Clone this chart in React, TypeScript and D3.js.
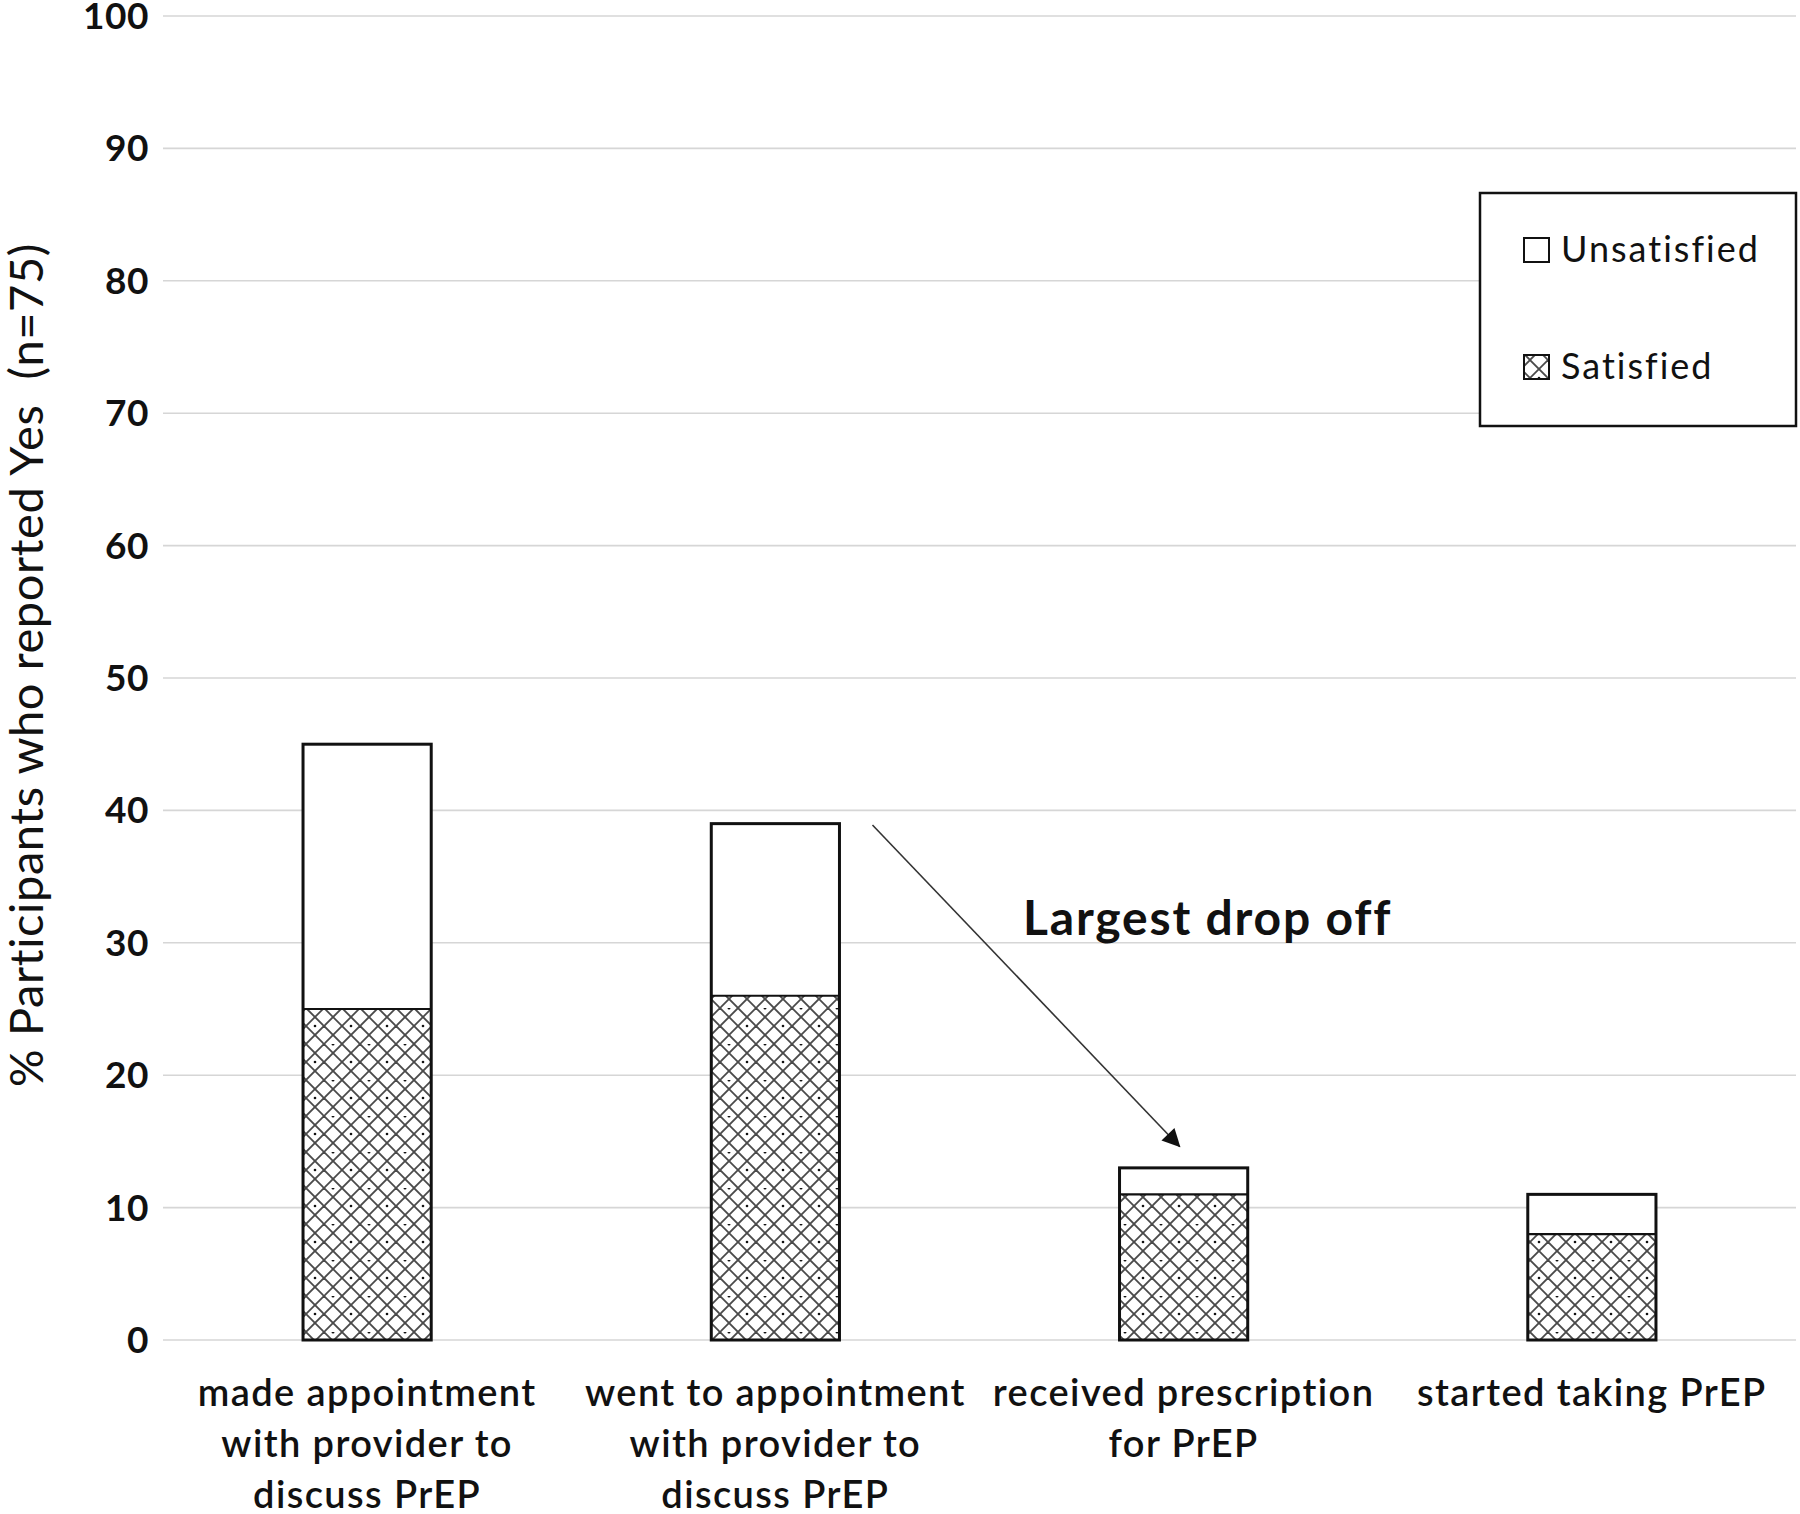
import React from "react";
import * as d3 from "d3";

const categories: string[][] = [
  ["made appointment", "with provider to", "discuss PrEP"],
  ["went to appointment", "with provider to", "discuss PrEP"],
  ["received prescription", "for PrEP"],
  ["started taking PrEP"],
];
const satisfied = [25, 26, 11, 8];
const unsatisfied = [20, 13, 2, 3];
const yTicks = [0, 10, 20, 30, 40, 50, 60, 70, 80, 90, 100];
const seriesNames = ["Unsatisfied", "Satisfied"];
const yTitle = "% Participants who reported Yes\u00a0 (n=75)";
const annotation = "Largest drop off";

const W = 1800;
const H = 1514;
const FONT = "Lato, 'Open Sans', 'DejaVu Sans', sans-serif";

export default function App() {
  const ids = categories.map((_, i) => String(i));
  const x = d3.scaleBand<string>().domain(ids).range([163, 1796]).paddingInner(0.686).paddingOuter(0.343);
  const y = d3.scaleLinear().domain([0, 100]).range([1340, 16]);
  const bw = x.bandwidth();

  const stacked = categories.map((_, i) => ({
    id: ids[i],
    s0: 0,
    s1: satisfied[i],
    u0: satisfied[i],
    u1: satisfied[i] + unsatisfied[i],
  }));

  const ax1 = (x("1") as number) + bw + 33;
  const ay1 = y(38.9);
  const ax2 = (x("2") as number) + bw * 0.47;
  const ay2 = y(14.6);

  return (
    <svg width={W} height={H} style={{ position: "absolute", left: 0, top: 0, background: "#fff" }} fontFamily={FONT}>
      <defs>
        <pattern id="hatch" patternUnits="userSpaceOnUse" width="36" height="36">
          <rect width="36" height="36" fill="#fff" />
          <g stroke="#4a4a4a" strokeWidth="1.8" fill="none">
            <line x1="0" y1="0" x2="36" y2="36" />
            <line x1="18" y1="0" x2="36" y2="18" />
            <line x1="0" y1="18" x2="18" y2="36" />
            <line x1="36" y1="0" x2="0" y2="36" />
            <line x1="18" y1="0" x2="0" y2="18" />
            <line x1="36" y1="18" x2="18" y2="36" />
          </g>
          <circle cx="9" cy="0" r="1.5" fill="#111" />
          <circle cx="27" cy="18" r="1.3" fill="#111" />
        </pattern>
        <marker id="arrowBig" viewBox="0 0 10 10" refX="9.5" refY="5" markerWidth="22" markerHeight="18" orient="auto" markerUnits="userSpaceOnUse">
          <path d="M0,0 L10,5 L0,10 Z" fill="#111" />
        </marker>
      </defs>

      {/* gridlines */}
      {yTicks.map((t) => (
        <line key={"g" + t} x1={163} x2={1796} y1={y(t)} y2={y(t)} stroke="#d6d6d6" strokeWidth={1.6} />
      ))}
      {/* y tick labels */}
      {yTicks.map((t) => (
        <text key={"t" + t} x={149} y={y(t) + 13} textAnchor="end" fontSize={37} fontWeight={700} fill="#111" letterSpacing={0.5}>
          {t}
        </text>
      ))}
      {/* y title */}
      <text
        transform={`translate(43, ${665}) rotate(-90)`}
        textAnchor="middle"
        fontSize={47}
        fill="#111"
        letterSpacing={0.6}
      >
        {yTitle}
      </text>

      {/* bars */}
      {stacked.map((d) => (
        <g key={"b" + d.id}>
          <rect x={x(d.id)} y={y(d.s1)} width={bw} height={y(d.s0) - y(d.s1)} fill="url(#hatch)" />
          <rect x={x(d.id)} y={y(d.u1)} width={bw} height={y(d.u0) - y(d.u1)} fill="#fff" />
          <line x1={x(d.id)} x2={(x(d.id) as number) + bw} y1={y(d.u0)} y2={y(d.u0)} stroke="#111" strokeWidth={2.2} />
          <rect x={x(d.id)} y={y(d.u1)} width={bw} height={y(0) - y(d.u1)} fill="none" stroke="#111" strokeWidth={3} />
        </g>
      ))}

      {/* category labels */}
      {categories.map((lines, i) => (
        <text key={"c" + i} textAnchor="middle" fontSize={38} fontWeight={600} fill="#111" letterSpacing={1.4}>
          {lines.map((l, j) => (
            <tspan key={j} x={(x(ids[i]) as number) + bw / 2} y={1406 + j * 51}>
              {l}
            </tspan>
          ))}
        </text>
      ))}

      {/* annotation */}
      <line x1={ax1} y1={ay1} x2={ax2} y2={ay2} stroke="#333" strokeWidth={1.6} markerEnd="url(#arrowBig)" />
      <text x={1023} y={935} fontSize={48} fontWeight={700} fill="#111" letterSpacing={1.8}>
        {annotation}
      </text>

      {/* legend */}
      <rect x={1480} y={193} width={316} height={233} fill="#fff" stroke="#111" strokeWidth={2.5} />
      <rect x={1524} y={238} width={25} height={24} fill="#fff" stroke="#111" strokeWidth={2} />
      <text x={1561} y={262} fontSize={36} fill="#111" letterSpacing={2}>{seriesNames[0]}</text>
      <rect x={1524} y={355} width={25} height={24} fill="url(#hatch)" stroke="#111" strokeWidth={2} />
      <text x={1561} y={379} fontSize={36} fill="#111" letterSpacing={2}>{seriesNames[1]}</text>
    </svg>
  );
}
